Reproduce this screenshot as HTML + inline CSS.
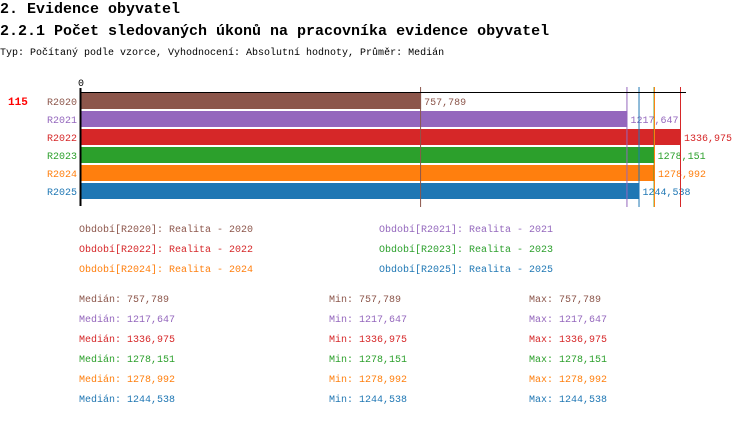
<!DOCTYPE html>
<html><head><meta charset="utf-8"><style>
body{margin:0;width:750px;height:416px;background:#fff;overflow:hidden;font-family:"Liberation Mono",monospace}
svg text{font-family:"Liberation Mono",monospace}
</style></head><body>
<svg id="chart" width="750" height="416" xmlns="http://www.w3.org/2000/svg">
<text x="0" y="13" font-size="15" font-weight="bold" fill="#000">2. Evidence obyvatel</text>
<text x="0" y="35" font-size="15" font-weight="bold" fill="#000">2.2.1 Počet sledovaných úkonů na pracovníka evidence obyvatel</text>
<text x="0" y="55" font-size="10" fill="#000">Typ: Počítaný podle vzorce, Vyhodnocení: Absolutní hodnoty, Průměr: Medián</text>
<text x="78" y="86" font-size="10" fill="#000">0</text>
<text x="8" y="105" font-size="11" font-weight="bold" fill="#f00">115</text>
<g id="bars"></g>
<g id="legend"></g>
<g id="stats"></g>
</svg>
<script>
const categories=["R2020","R2021","R2022","R2023","R2024","R2025"];
const values=[757.789,1217.647,1336.975,1278.151,1278.992,1244.538];
const valueLabels=["757,789","1217,647","1336,975","1278,151","1278,992","1244,538"];
const legendLabels=["Realita - 2020","Realita - 2021","Realita - 2022","Realita - 2023","Realita - 2024","Realita - 2025"];
const colors=["#8c564b","#9467bd","#d62728","#2ca02c","#ff7f0e","#1f77b4"];
const NS="http://www.w3.org/2000/svg";
const x0=81, xMax=1336.975, xEnd=681;
const xs=v=>x0+v*(xEnd-x0)/xMax;
const yBar=i=>93+i*18;
function mk(tag,attrs,parent,text){const e=document.createElementNS(NS,tag);for(const k in attrs)e.setAttribute(k,attrs[k]);if(text!==undefined)e.textContent=text;parent.appendChild(e);return e;}
const gb=document.getElementById('bars');
values.forEach((v,i)=>{
  const r=mk('rect',{x:x0,y:yBar(i),width:xs(v)-x0,height:16,fill:colors[i]},gb);
  
  
  const c=mk('text',{x:77,y:yBar(i)+12,'font-size':10,'text-anchor':'end',fill:colors[i]},gb,categories[i]);
  
  
  const t=mk('text',{x:xs(v)+3,y:yBar(i)+12,'font-size':10,fill:colors[i]},gb,valueLabels[i]);
  
  
});
values.forEach((v,i)=>{
  const l=mk('line',{x1:xs(v)-0.5,x2:xs(v)-0.5,y1:87,y2:207,stroke:colors[i],'stroke-width':1},gb);
  
  
});
const topLine=mk('line',{x1:80,x2:686,y1:92.5,y2:92.5,stroke:'#000','stroke-width':1},gb);


const axLine=mk('line',{x1:80.5,x2:80.5,y1:88,y2:206,stroke:'#000','stroke-width':2},gb);


const gl=document.getElementById('legend');
categories.forEach((c,i)=>{
  const t=mk('text',{x:(i%2?379:79),y:232+Math.floor(i/2)*20,'font-size':10,fill:colors[i]},gl,'Období['+c+']: '+legendLabels[i]);
  
  
});
const gs=document.getElementById('stats');
valueLabels.forEach((s,i)=>{
  const y=302+i*20;
  [['Medián: ',79],['Min: ',329],['Max: ',529]].forEach(([p,x])=>{
    const t=mk('text',{x:x,y:y,'font-size':10,fill:colors[i]},gs,p+s);
    
    
  });
});
</script>
</body></html>
